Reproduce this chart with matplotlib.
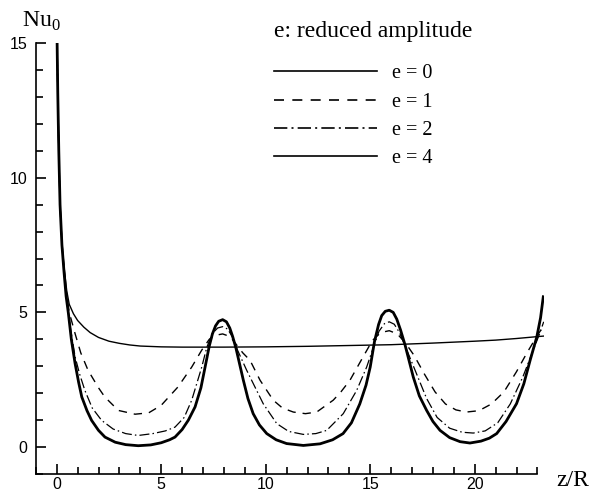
import matplotlib
matplotlib.use("Agg")
import matplotlib.pyplot as plt
from matplotlib.lines import Line2D
from matplotlib.ticker import MultipleLocator

# values (z/R, Nu0)
z_e0 = [0.02, 0.05, 0.1, 0.16, 0.25, 0.35, 0.48, 0.6, 0.8, 1.0, 1.3, 1.6, 2.0, 2.5,
        3.0, 3.5, 4.0, 5.0, 6.0, 8.0, 10.0, 12.0, 14.0, 16.0, 18.0, 20.0, 21.0, 22.0,
        23.0, 23.3]
nu_e0 = [15.0, 13.2, 11.0, 9.05, 7.6, 6.7, 5.8, 5.3, 4.95, 4.7, 4.45, 4.25, 4.07, 3.93,
         3.85, 3.79, 3.75, 3.72, 3.71, 3.71, 3.72, 3.74, 3.77, 3.8, 3.86, 3.93, 3.97, 4.03,
         4.1, 4.12]

z_e1 = [0.02, 0.05, 0.1, 0.16, 0.25, 0.35, 0.45, 0.6, 0.88, 1.15, 1.5, 2.0, 2.3, 2.95,
        3.75, 4.4, 5.0, 5.8, 6.46, 6.94, 7.3, 7.6, 7.94, 8.3, 8.6, 8.9, 9.25, 9.73,
        10.36, 10.8, 11.32, 11.9, 12.44, 13.23, 13.6, 14.03, 14.66, 15.1, 15.5, 15.91,
        16.3, 16.7, 17.1, 17.6, 18.1, 18.6, 19.1, 19.6, 20.2, 20.8, 21.4, 22.0, 22.5,
        23.0, 23.3]
nu_e1 = [15.0, 13.2, 11.0, 9.0, 7.55, 6.6, 5.8, 5.0, 4.21, 3.5, 2.85, 2.2, 1.86, 1.36,
         1.22, 1.27, 1.55, 2.23, 2.97, 3.6, 4.0, 4.15, 4.2, 4.1, 3.8, 3.5, 3.22, 2.48,
         1.74, 1.45, 1.3, 1.24, 1.3, 1.74, 2.05, 2.48, 3.35, 3.95, 4.25, 4.32,
         4.2, 3.85, 3.4, 2.7, 2.05, 1.6, 1.38, 1.3, 1.35, 1.6, 2.05, 2.8, 3.5,
         4.15, 4.5]

z_e2 = [0.02, 0.05, 0.1, 0.16, 0.25, 0.35, 0.45, 0.6, 0.88, 1.1, 1.35, 1.7, 2.15, 2.7,
        3.3, 3.9, 4.6, 5.2, 5.66, 6.1, 6.46, 6.94, 7.18, 7.45, 7.7, 7.94, 8.18, 8.4,
        8.65, 9.09, 9.88, 10.53, 11.1, 11.8, 12.4, 12.92, 13.71, 14.35, 14.83, 15.15,
        15.42, 15.68, 15.91, 16.15, 16.4, 16.7, 17.2, 17.7, 18.2, 18.8, 19.4, 19.93,
        20.5, 21.1, 21.7, 22.3, 22.8, 23.1, 23.3]
nu_e2 = [15.0, 13.2, 11.0, 9.0, 7.5, 6.55, 5.7, 4.7, 3.35, 2.7, 2.1, 1.45, 0.99, 0.67,
         0.5, 0.43, 0.5, 0.6, 0.74, 1.1, 1.74, 2.97, 3.7, 4.22, 4.42, 4.47, 4.38, 4.1,
         3.6, 2.85, 1.61, 0.87, 0.58, 0.47, 0.5, 0.62, 1.24, 2.1, 2.97, 3.7,
         4.3, 4.58, 4.65, 4.56, 4.25, 3.7, 2.75, 1.8, 1.1, 0.7, 0.55, 0.52,
         0.6, 0.9, 1.6, 2.6, 3.6, 4.2, 4.65]

z_e4 = [0.02, 0.05, 0.1, 0.16, 0.25, 0.35, 0.45, 0.56, 0.7, 0.88, 1.05, 1.2, 1.45, 1.67,
        2.0, 2.31, 2.8, 3.3, 3.9, 4.5, 5.0, 5.4, 5.66, 6.0, 6.3, 6.62, 6.9, 7.1, 7.3,
        7.45, 7.6, 7.75, 7.94, 8.12, 8.28, 8.42, 8.58, 8.93, 9.15, 9.4, 9.7, 10.05,
        10.5, 11.0, 11.8, 12.6, 13.2, 13.7, 14.1, 14.5, 14.8, 15.0, 15.2, 15.4, 15.55,
        15.72, 15.91, 16.1, 16.27, 16.45, 16.67, 17.06, 17.35, 17.7, 18.0, 18.34, 18.8,
        19.3, 19.77, 20.3, 20.7, 21.05, 21.5, 22.0, 22.35, 22.65, 22.97, 23.15, 23.28]
nu_e4 = [15.0, 13.2, 11.0, 9.0, 7.5, 6.5, 5.6, 4.96, 4.0, 3.1, 2.4, 1.86, 1.35, 0.99,
         0.62, 0.37, 0.18, 0.09, 0.05, 0.08, 0.16, 0.27, 0.37, 0.65, 1.0, 1.49, 2.2, 2.97,
         3.75, 4.2, 4.5, 4.67, 4.73, 4.65, 4.42, 4.1, 3.66, 2.48, 1.8, 1.24, 0.82, 0.5,
         0.27, 0.13, 0.06, 0.12, 0.27, 0.5, 0.9, 1.6, 2.3, 2.97, 3.9, 4.55, 4.88,
         5.04, 5.08, 5.0, 4.75, 4.35, 3.78, 2.6, 1.9, 1.36, 0.95, 0.62, 0.35,
         0.2, 0.15, 0.22, 0.33, 0.5, 0.95, 1.61, 2.35, 3.22, 4.09, 4.8, 5.58]

series = [
    ("e = 0", z_e0, nu_e0, dict(lw=1.0, ls="-")),
    ("e = 1", z_e1, nu_e1, dict(lw=1.0, ls=(0, (6, 5)))),
    ("e = 2", z_e2, nu_e2, dict(lw=0.9, ls=(0, (8, 2.5, 1.2, 2.5)))),
    ("e = 4", z_e4, nu_e4, dict(lw=2.0, ls="-")),
]

serif = "Liberation Serif"
sans = "Liberation Sans"
plt.rcParams["font.family"] = sans
plt.rcParams["mathtext.fontset"] = "custom"
plt.rcParams["mathtext.rm"] = serif

fig = plt.figure(figsize=(5.89, 4.92), dpi=100)
ax = fig.add_axes([35.8 / 589, 18 / 492, (543.7 - 35.8) / 589, (474 - 43) / 492])

handles = []
for label, z, nu, style in series:
    ax.plot(z, nu, color="black", label=label, solid_joinstyle="round", **style)
    handles.append(Line2D([], [], color="black", lw=1.2, ls=style["ls"]))

ax.set_xlim(-1, 23.3)
ax.set_ylim(-1, 15)
ax.spines["top"].set_visible(False)
ax.spines["right"].set_visible(False)
ax.spines["bottom"].set_bounds(-1, 23)
ax.spines["left"].set_linewidth(1.2)
ax.spines["bottom"].set_linewidth(1.2)

ax.xaxis.set_major_locator(MultipleLocator(5))
ax.xaxis.set_minor_locator(MultipleLocator(1))
ax.yaxis.set_major_locator(MultipleLocator(5))
ax.yaxis.set_minor_locator(MultipleLocator(1))
ax.tick_params(which="both", direction="in", width=1.2, labelsize=11.5)
ax.tick_params(which="major", length=7)
ax.tick_params(which="minor", length=5)
ax.tick_params(axis="x", pad=2)
ax.tick_params(axis="y", pad=6)

fig.text(22 / 589, 1 - 27 / 492, "Nu$_0$", fontsize=17, family=serif,
         ha="left", va="baseline")
fig.text(556 / 589, 1 - 481 / 492, "z/R", fontsize=17, family=serif,
         ha="left", va="center")

leg = ax.legend(handles, [s[0] for s in series], loc="upper left",
                bbox_to_anchor=(260 / 589, 1 - 7 / 492), bbox_transform=fig.transFigure,
                frameon=False, title="e: reduced amplitude", alignment="left",
                prop={"family": serif, "size": 14.5},
                title_fontproperties={"family": serif, "size": 17},
                handlelength=5.1, handletextpad=0.75, labelspacing=0.45,
                borderpad=0.2)
leg._legend_box.sep = 16

fig.savefig("out.png", dpi=100)
